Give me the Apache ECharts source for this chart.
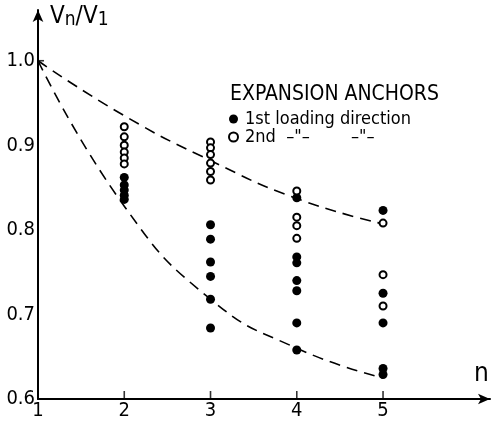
<!DOCTYPE html>
<html>
<head>
<meta charset="utf-8">
<script src="https://cdn.jsdelivr.net/npm/echarts@6/dist/echarts.min.js"></script>
<style>
  html, body { margin: 0; padding: 0; background: #fff; }
  #chart { width: 494px; height: 422px; }
</style>
</head>
<body>
<div id="chart"></div>
<script>
// values
var nTicks = [1, 2, 3, 4, 5];
var yTicks = [0.6, 0.7, 0.8, 0.9, 1.0];
var tickMarksN = [2, 3, 4, 5];

// fitted dashed curves, one value per n
var curveFirst = [1.0, 0.828, 0.718, 0.66, 0.625];
var curveSecond = [1.0, 0.935, 0.882, 0.837, 0.807];

// 1st loading direction (filled dots)
var first2 = [0.862, 0.853, 0.847, 0.841, 0.836];
var first3 = [0.806, 0.789, 0.762, 0.745, 0.718, 0.684];
var first4 = [0.838, 0.768, 0.761, 0.74, 0.728, 0.69, 0.658];
var first5 = [0.823, 0.725, 0.69, 0.636, 0.629];

// 2nd loading direction (open circles)
var second2 = [0.922, 0.91, 0.9, 0.892, 0.885, 0.878];
var second3 = [0.904, 0.897, 0.889, 0.879, 0.869, 0.859];
var second4 = [0.846, 0.815, 0.805, 0.79];
var second5 = [0.808, 0.747, 0.71];

var name1 = '1st loading direction';
var name2 = '2nd  \u2013"\u2013        \u2013"\u2013';

function pairs(n, vals) {
    return vals.map(function (v) { return [n, v]; });
}
function curve(vals) {
    return vals.map(function (v, i) { return [nTicks[i], v]; });
}

var firstPts = [].concat(pairs(2, first2), pairs(3, first3), pairs(4, first4), pairs(5, first5));
var secondPts = [].concat(pairs(2, second2), pairs(3, second3), pairs(4, second4), pairs(5, second5));

var chart = echarts.init(document.getElementById('chart'));
var font = 'DejaVu Sans Condensed';

var option = {
    backgroundColor: '#fff',
    animation: false,
    textStyle: { fontFamily: font, color: '#000' },
    title: {
        text: 'EXPANSION ANCHORS',
        left: 225,
        top: 79,
        textStyle: { fontFamily: font, fontSize: 21, fontWeight: 'normal', color: '#000' }
    },
    legend: {
        orient: 'vertical',
        left: 223,
        top: 105,
        itemGap: 0,
        itemWidth: 9,
        itemHeight: 9,
        icon: 'circle',
        textStyle: { fontFamily: font, fontSize: 18, color: '#000', padding: [0, 0, 0, 2] },
        data: [name1, name2]
    },
    grid: { left: 38, top: 10, width: 452, height: 389 },
    xAxis: {
        type: 'value',
        min: 1,
        max: 6.24,
        interval: 1,
        name: 'n',
        nameLocation: 'end',
        nameGap: -16,
        nameTextStyle: { fontFamily: font, fontSize: 26, verticalAlign: 'bottom', padding: [0, 0, 12, 0] },
        axisLine: { lineStyle: { color: '#000', width: 2 }, symbol: ['none', 'arrow'], symbolSize: [8, 12] },
        axisTick: { show: false },
        axisLabel: { color: '#000', fontSize: 20, margin: 2, customValues: nTicks },
        splitLine: { show: false }
    },
    yAxis: {
        type: 'value',
        min: 0.6,
        max: 1.06,
        interval: 0.1,
        name: '{v|V}{s|n}{v|/V}{s|1}',
        nameLocation: 'end',
        nameGap: -20,
        nameTextStyle: {
            align: 'left',
            padding: [0, 0, 0, 12],
            rich: {
                v: { fontFamily: font, fontSize: 24, color: '#000' },
                s: { fontFamily: font, fontSize: 19, color: '#000', verticalAlign: 'bottom', padding: [8, 0, 0, 0] }
            }
        },
        axisLine: { lineStyle: { color: '#000', width: 2 }, symbol: ['none', 'arrow'], symbolSize: [8, 12] },
        axisTick: { show: false },
        axisLabel: {
            color: '#000',
            fontSize: 20,
            margin: 3,
            customValues: yTicks,
            formatter: function (v) { return v.toFixed(1); }
        },
        splitLine: { show: false }
    },
    series: [
        {
            name: 'xticks',
            type: 'scatter',
            symbol: 'rect',
            symbolSize: [1.6, 8],
            symbolOffset: [0, -4],
            itemStyle: { color: '#000' },
            silent: true,
            data: pairs(0, tickMarksN).map(function (p) { return [p[1], yTicks[0]]; }),
            z: 2
        },
        {
            name: 'ytick',
            type: 'scatter',
            symbol: 'rect',
            symbolSize: [6, 1.6],
            symbolOffset: [3, 0],
            itemStyle: { color: '#000' },
            silent: true,
            data: [[nTicks[0], yTicks[4]]],
            z: 2
        },
        {
            name: 'curve1',
            type: 'line',
            smooth: 0.5,
            symbol: 'none',
            data: curve(curveFirst),
            lineStyle: { color: '#000', width: 1.6, type: [11, 7] },
            z: 1
        },
        {
            name: 'curve2',
            type: 'line',
            smooth: 0.5,
            symbol: 'none',
            data: curve(curveSecond),
            lineStyle: { color: '#000', width: 1.6, type: [11, 7] },
            z: 1
        },
        {
            name: name1,
            type: 'scatter',
            symbol: 'circle',
            symbolSize: 9,
            itemStyle: { color: '#000', opacity: 1 },
            data: firstPts,
            z: 3
        },
        {
            name: name2,
            type: 'scatter',
            symbol: 'circle',
            symbolSize: 7,
            itemStyle: { color: '#fff', borderColor: '#000', borderWidth: 2, opacity: 1 },
            data: secondPts,
            z: 3
        }
    ]
};

chart.setOption(option);
</script>
</body>
</html>
